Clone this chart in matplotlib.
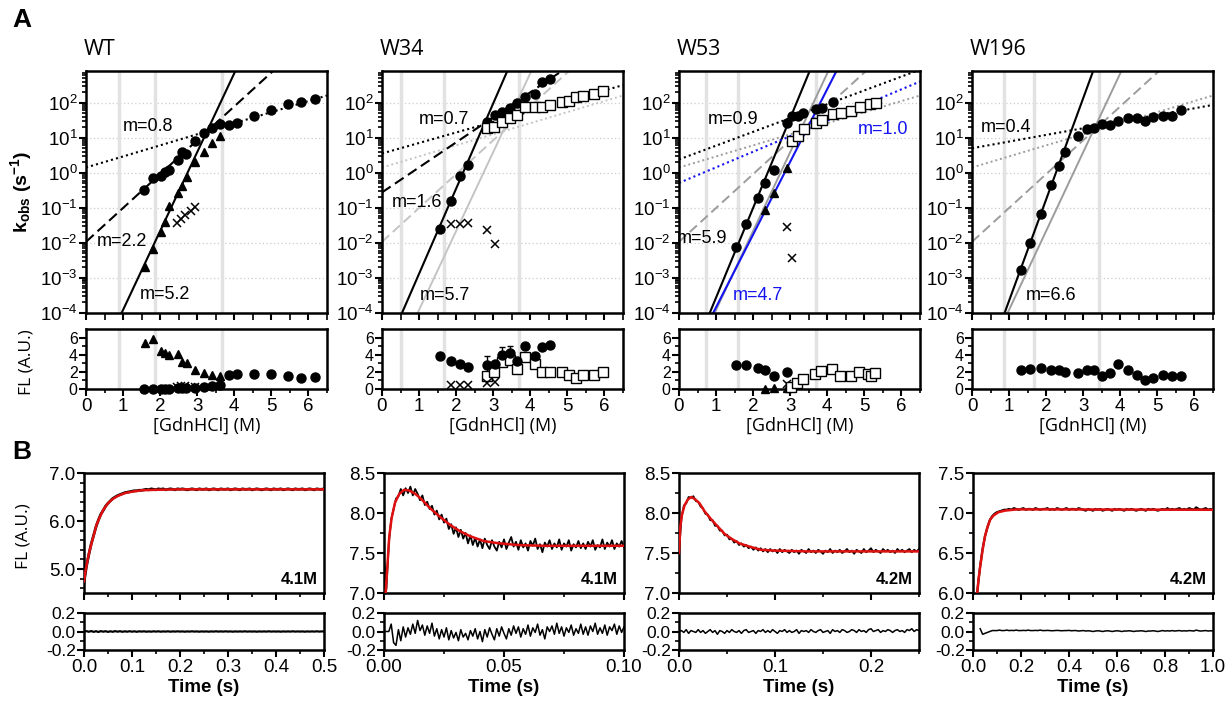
import numpy as np
import matplotlib
matplotlib.use('Agg')
import matplotlib.pyplot as plt
from matplotlib.ticker import MultipleLocator, FixedLocator, NullFormatter, FormatStrFormatter, LogFormatterSciNotation

plt.rcParams.update({
    'font.family': 'Liberation Sans',
    'axes.unicode_minus': False,
    'mathtext.fontset': 'custom',
    'mathtext.rm': 'Liberation Sans',
    'mathtext.bf': 'Liberation Sans:bold',
    'mathtext.it': 'Liberation Sans:italic',
})

# ---------------- Panel A: chevron data ----------------
wt_circ_x = [1.57, 1.80, 2.03, 2.14, 2.25, 2.48, 2.59, 2.70, 2.93, 3.17, 3.40, 3.62, 3.85, 4.07, 4.54, 4.99, 5.45, 5.81, 6.17]
wt_circ_k = [0.32, 0.69, 0.80, 1.07, 1.2, 2.3, 4.0, 3.4, 8.0, 14, 19.4, 24.6, 23, 27, 41.5, 62, 92, 104, 125]
wt_circ_fl = [0.05, 0.05, 0.05, 0.05, 0.05, 0.1, 0.1, 0.1, 0.15, 0.25, 0.35, 0.5, 1.6, 1.8, 1.8, 1.7, 1.5, 1.3, 1.35]
wt_tri_x = [1.59, 1.80, 2.03, 2.14, 2.25, 2.48, 2.59, 2.72, 2.95, 3.17, 3.40, 3.62]
wt_tri_k = [0.0020, 0.0065, 0.021, 0.040, 0.11, 0.27, 0.42, 0.78, 2.0, 3.8, 6.9, 11.2]
wt_tri_fl = [5.42, 5.81, 4.46, 4.15, 3.96, 4.08, 3.19, 3.0, 2.23, 1.92, 1.62, 1.46]
wt_x_x = [2.45, 2.56, 2.68, 2.82, 2.95]
wt_x_k = [0.038, 0.048, 0.063, 0.083, 0.107]
wt_x_fl = [0.25, 0.3, 0.3, 0.2, 0.2]

w34_circ_x = [1.56, 1.85, 2.10, 2.32, 2.82, 3.05, 3.23, 3.44, 3.63, 3.87, 4.13, 4.32, 4.53]
w34_circ_k = [0.0245, 0.158, 0.82, 1.66, 28.8, 44.7, 55, 69, 100, 148, 178, 398, 479]
w34_circ_fl = [3.83, 3.24, 2.96, 2.53, 2.85, 2.92, 3.91, 4.23, 3.24, 5.02, 3.83, 4.94, 5.14]
w34_circ_err = [0, 0, 0, 0, 1.0, 0, 1.0, 0.8, 0, 0.4, 0, 0, 0]
w34_sq_x = [2.82, 3.02, 3.23, 3.44, 3.63, 3.87, 4.13, 4.32, 4.53, 4.86, 5.05, 5.23, 5.41, 5.72, 5.95]
w34_sq_k = [18.6, 20.4, 27.5, 35.5, 44.7, 77.6, 77.6, 77.6, 85.1, 102, 115, 141, 155, 174, 214]
w34_sq_fl = [1.46, 1.98, 3.16, 3.44, 2.33, 3.72, 2.92, 1.98, 1.98, 1.98, 1.66, 1.34, 1.66, 1.58, 1.98]
w34_x_x = [1.85, 2.10, 2.32, 2.82, 3.05]
w34_x_k = [0.034, 0.035, 0.037, 0.023, 0.0091]
w34_x_fl = [0.47, 0.47, 0.47, 0.67, 0.8]

w53_circ_x = [1.55, 1.80, 2.12, 2.32, 2.57, 2.90, 3.04, 3.20, 3.35, 3.69, 3.85, 4.16]
w53_circ_k = [0.0078, 0.035, 0.19, 0.50, 1.19, 26.9, 41.7, 41.7, 51.3, 66, 72, 102]
w53_flc_x = [1.55, 1.80, 2.12, 2.32, 2.57, 2.90]
w53_flc = [2.85, 2.77, 2.45, 2.17, 1.54, 1.98]
w53_tri_x = [2.32, 2.57, 2.90]
w53_tri_k = [0.085, 0.26, 1.38]
w53_tri_fl = [0.0, 0.08, 0.15]
w53_sq_x = [3.05, 3.20, 3.37, 3.69, 3.86, 4.16, 4.37, 4.64, 4.88, 5.14, 5.31]
w53_sq_k = [7.9, 11.2, 17.8, 25.7, 31.6, 46.8, 50.1, 57.5, 74.1, 91.2, 100]
w53_sqfl_x = [3.03, 3.18, 3.34, 3.68, 3.84, 4.12, 4.35, 4.65, 4.85, 5.11, 5.19, 5.29]
w53_sqfl = [0.2, 0.75, 1.19, 1.74, 2.13, 2.33, 1.54, 1.54, 1.94, 1.74, 1.46, 1.86]
w53_x_x = [2.90, 3.05]
w53_x_k = [0.0275, 0.0038]
w53_x_fl = [0.6, 0.3]

w196_x = [1.32, 1.57, 1.85, 2.13, 2.34, 2.52, 2.87, 3.09, 3.29, 3.50, 3.72, 3.95, 4.22, 4.44, 4.67, 4.89, 5.16, 5.39, 5.64]
w196_k = [0.00166, 0.0102, 0.066, 0.45, 1.55, 3.8, 11.5, 17.4, 19.5, 24.5, 22.9, 30.2, 35.5, 37.2, 30.9, 38, 41.7, 42.7, 61.7]
w196_fl = [2.25, 2.37, 2.45, 2.25, 2.25, 1.98, 1.86, 2.17, 2.25, 1.46, 1.86, 2.92, 2.25, 1.66, 1.07, 1.34, 1.66, 1.46, 1.46]

# linear fits in log10(k) vs [GdnHCl]: intercept, slope (solid, dashed, dotted)
wt_fit_a = [-6.16, -1.97, 0.15]
wt_fit_b = [2.25, 0.966, 0.316]
w34_fit_a = [-5.31, -0.56, 0.55]
w34_fit_b = [2.43, 0.714, 0.30]
w53_fit_a = [-6.12, 0.38]
w53_fit_b = [2.56, 0.394]
w53_blue_a = [-5.91, -0.29]
w53_blue_b = [2.075, 0.445]
w196_fit_a = [-6.54, 0.70]
w196_fit_b = [2.89, 0.19]

wt_vl = [0.9, 1.87, 3.67]
w34_vl = [0.5, 1.68, 3.7]
w53_vl = [0.72, 1.58, 3.69]
w196_vl = [0.86, 1.67, 3.43]

# ---------------- Panel B: kinetic traces ----------------
wt_dt = 0.005
wt_trace = [4.72, 5.05, 5.30, 5.52, 5.70, 5.88, 6.02, 6.14, 6.22, 6.31, 6.37, 6.42, 6.47, 6.50, 6.53, 6.55,
            6.57, 6.59, 6.60, 6.61, 6.62, 6.63, 6.63, 6.64, 6.64, 6.65, 6.66, 6.65, 6.67, 6.66, 6.65, 6.67,
            6.66, 6.67, 6.65, 6.66, 6.67, 6.66, 6.65, 6.67, 6.66, 6.67, 6.66, 6.65, 6.66, 6.67, 6.66, 6.65,
            6.67, 6.66, 6.66, 6.67, 6.65, 6.66, 6.67, 6.66, 6.65, 6.67, 6.66, 6.66, 6.67, 6.65, 6.66, 6.67,
            6.66, 6.65, 6.67, 6.66, 6.66, 6.67, 6.65, 6.66, 6.67, 6.66, 6.65, 6.66, 6.67, 6.66, 6.65, 6.67,
            6.66, 6.66, 6.67, 6.65, 6.66, 6.67, 6.66, 6.65, 6.67, 6.66, 6.66, 6.67, 6.65, 6.66, 6.67, 6.66,
            6.65, 6.67, 6.66, 6.66, 6.67]
wt_fit_t = [0.0, 0.003, 0.006, 0.009, 0.012, 0.016, 0.020, 0.026, 0.032, 0.040, 0.050, 0.060, 0.070,
            0.085, 0.100, 0.120, 0.150, 0.200, 0.300, 0.400, 0.500]
wt_fit = [4.74, 4.95, 5.11, 5.26, 5.39, 5.55, 5.69, 5.92, 6.06, 6.23, 6.37, 6.46, 6.52, 6.58, 6.61,
          6.64, 6.65, 6.66, 6.66, 6.66, 6.66]
wt_res = [0.0, 0.004, -0.003, 0.005, -0.004, 0.003, -0.005, 0.004, -0.002, 0.003, -0.004, 0.002, -0.003,
          0.004, -0.002, 0.003, -0.003, 0.002, -0.002, 0.003, -0.002, 0.002, -0.003, 0.002, -0.001, 0.002,
          -0.002, 0.001, -0.002, 0.002, -0.001, 0.002, -0.002, 0.001, -0.001, 0.002, -0.002, 0.001, -0.001,
          0.002, -0.001, 0.001, -0.002, 0.001, -0.001, 0.002, -0.001, 0.001, -0.002, 0.001, -0.001, 0.001,
          -0.002, 0.001, -0.001, 0.002, -0.001, 0.001, -0.001, 0.002, -0.001, 0.001, -0.002, 0.001, -0.001,
          0.001, -0.001, 0.002, -0.001, 0.001, -0.001, 0.001, -0.002, 0.001, -0.001, 0.001, -0.001, 0.002,
          -0.001, 0.001, -0.001, 0.001, -0.002, 0.001, -0.001, 0.001, -0.001, 0.002, -0.001, 0.001, -0.001,
          0.001, -0.002, 0.001, -0.001, 0.001, -0.001, 0.002, -0.001, 0.001, 0.0]

w34_dt = 0.001
w34_trace = [7.45, 7.05, 7.62, 7.92, 8.05, 8.18, 8.21, 8.30, 8.22, 8.31, 8.25, 8.33, 8.22, 8.30, 8.24, 8.16,
             8.22, 8.10, 8.14, 8.05, 8.09, 7.98, 8.03, 7.92, 7.98, 7.88, 7.93, 7.80, 7.86, 7.74, 7.82, 7.70,
             7.79, 7.68, 7.75, 7.62, 7.72, 7.60, 7.69, 7.58, 7.67, 7.56, 7.68, 7.60, 7.55, 7.66, 7.58, 7.53,
             7.64, 7.57, 7.67, 7.55, 7.63, 7.70, 7.58, 7.64, 7.54, 7.66, 7.57, 7.62, 7.53, 7.65, 7.59, 7.68,
             7.55, 7.61, 7.51, 7.63, 7.58, 7.66, 7.55, 7.62, 7.57, 7.67, 7.54, 7.62, 7.58, 7.66, 7.53, 7.61,
             7.57, 7.65, 7.56, 7.62, 7.55, 7.64, 7.58, 7.66, 7.54, 7.60, 7.57, 7.67, 7.55, 7.63, 7.58, 7.66,
             7.55, 7.62, 7.58, 7.65, 7.57]
w34_fit_t = [0.0007, 0.0014, 0.0022, 0.0032, 0.0046, 0.0064, 0.0084, 0.0106, 0.013, 0.0157, 0.0192, 0.0234,
             0.0276, 0.0318, 0.0359, 0.0415, 0.047, 0.0554, 0.0666, 0.0833, 0.1]
w34_fit = [7.0, 7.33, 7.71, 7.94, 8.13, 8.24, 8.29, 8.28, 8.24, 8.17, 8.06, 7.95, 7.85, 7.77, 7.71, 7.65,
           7.625, 7.60, 7.59, 7.59, 7.59]
w34_res = [0.0, 0.0, 0.0, 0.08, -0.12, -0.15, 0.02, -0.10, 0.05, -0.06, 0.04, -0.03, 0.08, -0.02, 0.12, 0.01,
           0.07, -0.04, 0.06, -0.02, 0.09, -0.05, 0.03, -0.08, 0.02, -0.06, 0.04, -0.09, 0.01, -0.07, -0.01,
           -0.10, 0.02, -0.06, -0.02, -0.09, 0.01, -0.05, 0.03, -0.08, 0.00, -0.11, 0.02, -0.06, 0.04, -0.03,
           -0.09, 0.03, -0.05, 0.05, -0.02, -0.08, 0.03, -0.04, 0.06, -0.02, 0.05, -0.06, 0.03, -0.03, 0.07,
           -0.05, 0.04, -0.01, 0.08, -0.04, 0.02, -0.08, 0.05, 0.00, 0.06, -0.03, 0.09, -0.02, 0.05, -0.05,
           0.04, -0.01, 0.07, -0.04, 0.03, -0.02, 0.08, -0.03, 0.05, -0.04, 0.06, 0.00, 0.09, -0.03, 0.04,
           -0.02, 0.07, -0.04, 0.05, 0.01, 0.08, -0.03, 0.06, -0.01, 0.05]

w53_dt = 0.0025
w53_trace = [7.50, 7.93, 8.09, 8.12, 8.20, 8.19, 8.21, 8.15, 8.14, 8.08, 8.06, 7.99, 7.98, 7.91, 7.91, 7.84,
             7.84, 7.78, 7.78, 7.72, 7.73, 7.67, 7.68, 7.63, 7.65, 7.60, 7.62, 7.58, 7.60, 7.56, 7.58, 7.54,
             7.57, 7.53, 7.56, 7.52, 7.55, 7.51, 7.55, 7.52, 7.54, 7.50, 7.55, 7.51, 7.54, 7.52, 7.50, 7.54,
             7.51, 7.53, 7.49, 7.54, 7.52, 7.50, 7.55, 7.51, 7.53, 7.50, 7.54, 7.52, 7.49, 7.53, 7.51, 7.55,
             7.50, 7.53, 7.51, 7.54, 7.50, 7.52, 7.55, 7.51, 7.53, 7.49, 7.54, 7.52, 7.50, 7.55, 7.51, 7.53,
             7.56, 7.51, 7.54, 7.52, 7.50, 7.55, 7.52, 7.54, 7.51, 7.53, 7.50, 7.55, 7.52, 7.54, 7.51, 7.53,
             7.55, 7.51, 7.54, 7.52, 7.55]
w53_fit_t = [0.0, 0.0014, 0.0031, 0.0059, 0.0093, 0.0128, 0.017, 0.0215, 0.0267, 0.0336, 0.0405, 0.0474,
             0.0544, 0.063, 0.0734, 0.0855, 0.0994, 0.134, 0.186, 0.25]
w53_fit = [7.5, 7.83, 7.98, 8.10, 8.17, 8.20, 8.17, 8.12, 8.02, 7.92, 7.83, 7.74, 7.68, 7.62, 7.58, 7.54,
           7.53, 7.52, 7.52, 7.52]
w53_res = [0.0, 0.01, -0.01, 0.02, -0.02, 0.01, 0.0, -0.01, 0.02, -0.01, 0.01, -0.02, 0.0, 0.02, -0.01, 0.01,
           -0.03, 0.01, 0.0, -0.02, 0.01, -0.01, 0.02, 0.0, -0.01, 0.01, -0.02, 0.01, 0.02, -0.01, 0.0, 0.01,
           -0.02, 0.01, 0.0, 0.02, -0.01, 0.01, -0.01, 0.02, 0.0, -0.02, 0.01, 0.0, 0.02, -0.01, 0.01, -0.01,
           0.0, 0.02, -0.02, 0.01, 0.0, 0.01, -0.01, 0.02, 0.0, -0.01, 0.01, 0.02, -0.01, 0.0, 0.01, -0.02,
           0.02, 0.0, 0.01, -0.01, 0.02, 0.01, -0.01, 0.0, 0.02, 0.01, -0.01, 0.02, 0.0, 0.01, -0.01, 0.02,
           0.03, 0.0, 0.01, 0.02, -0.01, 0.01, 0.0, 0.02, 0.01, -0.01, 0.01, 0.02, 0.0, 0.01, -0.01, 0.02,
           0.01, 0.03, 0.0, 0.02, 0.01]

w196_dt = 0.01
w196_trace = [5.40, 5.75, 6.08, 6.34, 6.55, 6.71, 6.82, 6.91, 6.96, 6.99, 7.01, 7.02, 7.03, 7.04, 7.04, 7.05,
              7.04, 7.06, 7.05, 7.04, 7.05, 7.06, 7.04, 7.05, 7.05, 7.04, 7.06, 7.05, 7.04, 7.05, 7.05, 7.06,
              7.04, 7.05, 7.04, 7.06, 7.05, 7.04, 7.05, 7.06, 7.04, 7.05, 7.05, 7.04, 7.06, 7.05, 7.04, 7.03,
              7.05, 7.04, 7.03, 7.05, 7.04, 7.05, 7.03, 7.04, 7.05, 7.04, 7.03, 7.05, 7.04, 7.05, 7.04, 7.03,
              7.05, 7.04, 7.05, 7.04, 7.03, 7.04, 7.05, 7.04, 7.03, 7.05, 7.04, 7.05, 7.04, 7.03, 7.04, 7.05,
              7.04, 7.06, 7.04, 7.05, 7.04, 7.05, 7.06, 7.04, 7.05, 7.04, 7.06, 7.05, 7.04, 7.07, 7.05, 7.04,
              7.05, 7.06, 7.04, 7.05, 7.04]
w196_fit_t = [0.018, 0.023, 0.030, 0.040, 0.050, 0.061, 0.072, 0.086, 0.106, 0.134, 0.182, 0.334, 1.0]
w196_fit = [6.0, 6.17, 6.33, 6.54, 6.71, 6.83, 6.92, 6.97, 7.01, 7.03, 7.045, 7.045, 7.04]
w196_res = [np.nan, np.nan, np.nan, 0.03, -0.03, -0.02, -0.01, 0.0, 0.01, 0.01, 0.01, 0.015, 0.01, 0.01,
            0.015, 0.01, 0.012, 0.01, 0.015, 0.01, 0.01, 0.012, 0.01, 0.015, 0.01, 0.01, 0.012, 0.01, 0.015,
            0.01, 0.01, 0.012, 0.01, 0.008, 0.01, 0.012, 0.01, 0.008, 0.01, 0.01, 0.012, 0.008, 0.01, 0.01,
            0.005, 0.008, 0.01, 0.005, 0.008, 0.005, 0.0, 0.005, 0.008, 0.005, 0.0, 0.005, 0.008, 0.005, 0.0,
            0.005, 0.008, 0.005, 0.0, 0.005, 0.005, 0.008, 0.005, 0.0, 0.005, 0.005, 0.008, 0.005, 0.0, 0.005,
            0.005, 0.008, 0.005, 0.0, 0.005, 0.01, 0.005, 0.008, 0.005, 0.01, 0.005, 0.008, 0.01, 0.005, 0.008,
            0.005, 0.01, 0.008, 0.005, 0.015, 0.008, 0.005, 0.008, 0.01, 0.005, 0.008, 0.005]

# ---------------- layout ----------------
W, H = 1231, 708
A_lefts = [86, 382, 679, 972]
B_lefts = [84, 384, 679, 973]
BLUE = '#1414f0'
VLC = '#e2e2e2'
TICK = 13.5
DECADES = [10.0 ** d for d in range(-4, 3)]
LOG_MINOR = [m * 10.0 ** d for d in range(-4, 3) for m in range(2, 10) if m * 10.0 ** d < 800]


def fpos(left, top, width, height):
    return [left / W, 1 - (top + height) / H, width / W, height / H]


def style(ax, labelsize=TICK):
    for sp in ax.spines.values():
        sp.set_linewidth(1.8)
    ax.tick_params(which='major', direction='out', length=5, width=1.5, labelsize=labelsize, pad=1.5)
    ax.tick_params(which='minor', direction='out', length=3, width=1.2)


fig = plt.figure(figsize=(W / 100, H / 100), dpi=100)

titles = ['WT', 'W34', 'W53', 'W196']
kin_axes = []
fl_axes = []
for i, left in enumerate(A_lefts):
    ax = fig.add_axes(fpos(left, 71, 241, 242))
    style(ax)
    ax.set_yscale('log')
    ax.set_xlim(0, 6.5)
    ax.set_ylim(1e-4, 800)
    ax.yaxis.set_major_locator(FixedLocator(DECADES))
    ax.yaxis.set_major_formatter(LogFormatterSciNotation())
    ax.yaxis.set_minor_locator(FixedLocator(LOG_MINOR))
    ax.yaxis.set_minor_formatter(NullFormatter())
    ax.xaxis.set_major_locator(MultipleLocator(1))
    ax.xaxis.set_minor_locator(MultipleLocator(0.5))
    ax.tick_params(axis='x', which='both', labelbottom=False, length=5)
    ax.tick_params(axis='y', pad=1)
    for d in range(-3, 3):
        ax.axhline(10.0 ** d, color='#cccccc', ls=(0, (1, 2)), lw=0.9, zorder=0)
    ax.text(-0.01, 1.09, titles[i], transform=ax.transAxes, fontsize=15.5, family='Open Sans',
            ha='left', va='center')
    kin_axes.append(ax)

    fa = fig.add_axes(fpos(left, 329, 241, 60))
    style(fa)
    fa.set_xlim(0, 6.5)
    fa.set_ylim(0, 7)
    fa.xaxis.set_major_locator(MultipleLocator(1))
    fa.xaxis.set_minor_locator(MultipleLocator(0.5))
    fa.yaxis.set_major_locator(FixedLocator([0, 2, 4, 6]))
    fa.yaxis.set_minor_locator(FixedLocator([1, 3, 5]))
    fa.tick_params(axis='y', labelsize=11.5, pad=1)
    fa.set_xlabel('[GdnHCl] (M)', fontsize=13, family='Open Sans', labelpad=1)
    fl_axes.append(fa)

xx = np.array([0.0, 6.5])


def fitline(ax, a, b, color, ls, lw=1.5):
    ax.plot(xx, 10.0 ** (a + b * xx), color=color, ls=ls, lw=lw, zorder=2)


def vlines(axs, pos):
    for v in pos:
        for a in axs:
            a.axvline(v, color=VLC, lw=2.5, zorder=0)


mk = dict(ls='none', zorder=4, clip_on=False)
circ = dict(marker='o', ms=6.5, color='black', **mk)
tri = dict(marker='^', ms=6, color='black', **mk)
sq = dict(marker='s', ms=7, mfc='white', mec='black', mew=1.0, **mk)
cross = dict(marker='x', ms=6, mec='black', mew=1.1, **mk)
LS = ['-', (0, (5, 2.5)), (0, (1, 1.5))]
MFS = 13

# --- WT ---
ax, fa = kin_axes[0], fl_axes[0]
vlines([ax, fa], wt_vl)
for a, b, s in zip(wt_fit_a, wt_fit_b, LS):
    fitline(ax, a, b, 'black', s)
ax.plot(wt_circ_x, wt_circ_k, **circ)
ax.plot(wt_tri_x, wt_tri_k, **tri)
ax.plot(wt_x_x, wt_x_k, **cross)
fa.plot(wt_circ_x, wt_circ_fl, **circ)
fa.plot(wt_tri_x, wt_tri_fl, **tri)
fa.plot(wt_x_x, wt_x_fl, **cross)
ax.text(1.68, 10 ** 1.33, 'm=0.8', fontsize=MFS, ha='center', va='center')
ax.text(0.96, 10 ** -1.97, 'm=2.2', fontsize=MFS, ha='center', va='center')
ax.text(2.13, 10 ** -3.48, 'm=5.2', fontsize=MFS, ha='center', va='center')
ax.set_ylabel(r'$\mathbf{k_{obs}\ (s^{-1})}$', fontsize=14)
ax.yaxis.set_label_coords(-0.215, 0.5)
fa.set_ylabel('FL (A.U.)', fontsize=12.5, family='Open Sans')
fa.yaxis.set_label_coords(-0.215, 0.45)

# --- W34 ---
ax, fa = kin_axes[1], fl_axes[1]
vlines([ax, fa], w34_vl)
for a, b, s in zip(wt_fit_a, wt_fit_b, LS):
    fitline(ax, a, b, '#c4c4c4', s, lw=1.4)
for a, b, s in zip(w34_fit_a, w34_fit_b, LS):
    fitline(ax, a, b, 'black', s)
ax.plot(w34_circ_x, w34_circ_k, **circ)
ax.plot(w34_sq_x, w34_sq_k, **sq)
ax.plot(w34_x_x, w34_x_k, **cross)
fa.errorbar(w34_circ_x, w34_circ_fl, yerr=w34_circ_err, fmt='o', ms=6.5, color='black',
            elinewidth=1.0, capsize=2.5, zorder=4, clip_on=False)
fa.plot(w34_sq_x, w34_sq_fl, **sq)
fa.plot(w34_x_x, w34_x_fl, **cross)
ax.text(1.67, 10 ** 1.52, 'm=0.7', fontsize=MFS, ha='center', va='center')
ax.text(0.95, 10 ** -0.86, 'm=1.6', fontsize=MFS, ha='center', va='center')
ax.text(1.71, 10 ** -3.5, 'm=5.7', fontsize=MFS, ha='center', va='center')

# --- W53 ---
ax, fa = kin_axes[2], fl_axes[2]
vlines([ax, fa], w53_vl)
for a, b, s in zip(wt_fit_a, wt_fit_b, LS):
    fitline(ax, a, b, '#9c9c9c', s, lw=1.4)
fitline(ax, w53_fit_a[0], w53_fit_b[0], 'black', LS[0])
fitline(ax, w53_fit_a[1], w53_fit_b[1], 'black', LS[2])
fitline(ax, w53_blue_a[0], w53_blue_b[0], BLUE, LS[0])
fitline(ax, w53_blue_a[1], w53_blue_b[1], BLUE, LS[2])
ax.plot(w53_circ_x, w53_circ_k, **circ)
ax.plot(w53_tri_x, w53_tri_k, **tri)
ax.plot(w53_sq_x, w53_sq_k, **sq)
ax.plot(w53_x_x, w53_x_k, **cross)
fa.plot(w53_flc_x, w53_flc, **circ)
fa.plot(w53_tri_x, w53_tri_fl, **tri)
fa.plot(w53_x_x, w53_x_fl, **cross)
fa.plot(w53_sqfl_x, w53_sqfl, **sq)
ax.text(1.46, 10 ** 1.52, 'm=0.9', fontsize=MFS, ha='center', va='center')
ax.text(5.5, 10 ** 1.24, 'm=1.0', fontsize=MFS, ha='center', va='center', color=BLUE)
ax.text(0.62, 10 ** -1.88, 'm=5.9', fontsize=MFS, ha='center', va='center')
ax.text(2.14, 10 ** -3.5, 'm=4.7', fontsize=MFS, ha='center', va='center', color=BLUE)

# --- W196 ---
ax, fa = kin_axes[3], fl_axes[3]
vlines([ax, fa], w196_vl)
for a, b, s in zip(wt_fit_a, wt_fit_b, LS):
    fitline(ax, a, b, '#9c9c9c', s, lw=1.4)
fitline(ax, w196_fit_a[0], w196_fit_b[0], 'black', LS[0])
fitline(ax, w196_fit_a[1], w196_fit_b[1], 'black', LS[2])
ax.plot(w196_x, w196_k, **circ)
fa.plot(w196_x, w196_fl, **circ)
ax.text(0.93, 10 ** 1.29, 'm=0.4', fontsize=MFS, ha='center', va='center')
ax.text(2.13, 10 ** -3.5, 'm=6.6', fontsize=MFS, ha='center', va='center')

# ---------------- Panel B ----------------
traces = [
    (wt_dt, wt_trace, wt_fit_t, wt_fit, wt_res, (0, 0.5), (4.5, 7.0), 1.0, 0.2, 0.1, 0.05, '%.1f', '%.1f', '4.1M', 2.0),
    (w34_dt, w34_trace, w34_fit_t, w34_fit, w34_res, (0, 0.1), (7.0, 8.5), 0.5, 0.25, 0.05, 0.025, '%.1f', '%.2f', '4.1M', 1.3),
    (w53_dt, w53_trace, w53_fit_t, w53_fit, w53_res, (0, 0.25), (7.0, 8.5), 0.5, 0.25, 0.1, 0.05, '%.1f', '%.1f', '4.2M', 1.3),
    (w196_dt, w196_trace, w196_fit_t, w196_fit, w196_res, (0, 1.0), (6.0, 7.5), 0.5, 0.25, 0.2, 0.1, '%.1f', '%.1f', '4.2M', 1.6),
]
for i, (dt, tr, ft, fv, res, xl, yl, ymaj, ymin, xmaj, xmin, yfmt, xfmt, conc, tlw) in enumerate(traces):
    left = B_lefts[i]
    bt = fig.add_axes(fpos(left, 473, 240, 120))
    br = fig.add_axes(fpos(left, 613, 240, 37))
    for a in (bt, br):
        style(a)
        a.set_xlim(*xl)
        a.xaxis.set_major_locator(MultipleLocator(xmaj))
        a.xaxis.set_minor_locator(MultipleLocator(xmin))
    t = np.arange(len(tr)) * dt
    bt.plot(t, tr, color='black', lw=tlw, zorder=2)
    bt.plot(ft, fv, color='#e01010', lw=1.8, zorder=3)
    bt.set_ylim(*yl)
    bt.yaxis.set_major_locator(MultipleLocator(ymaj))
    bt.yaxis.set_minor_locator(MultipleLocator(ymin))
    bt.yaxis.set_major_formatter(FormatStrFormatter(yfmt))
    bt.tick_params(axis='x', labelbottom=False)
    bt.text(0.975, 0.05, conc, transform=bt.transAxes, ha='right', va='bottom',
            fontsize=12, fontweight='bold')

    tr_ = np.arange(len(res)) * dt
    br.plot(tr_, res, color='black', lw=1.1 if i != 0 else 1.6)
    br.set_ylim(-0.2, 0.2)
    br.yaxis.set_major_locator(FixedLocator([-0.2, 0.0, 0.2]))
    br.yaxis.set_minor_locator(FixedLocator([-0.1, 0.1]))
    br.yaxis.set_major_formatter(FormatStrFormatter('%.1f'))
    br.tick_params(axis='y', labelsize=12.5, pad=1)
    br.xaxis.set_major_formatter(FormatStrFormatter(xfmt))
    br.set_xlabel('Time (s)', fontsize=13.5, fontweight='bold', labelpad=2)
    if i == 0:
        bt.set_ylabel('FL (A.U.)', fontsize=12.5, family='Open Sans')
        bt.yaxis.set_label_coords(-0.22, 0.47)

fig.text(22 / W, 1 - 20 / H, 'A', fontsize=19, fontweight='bold', ha='center', va='center')
fig.text(22 / W, 1 - 452 / H, 'B', fontsize=19, fontweight='bold', ha='center', va='center')

fig.savefig('out.png', dpi=100)
